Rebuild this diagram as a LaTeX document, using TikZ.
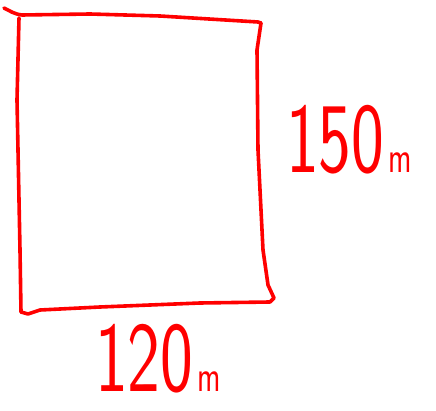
\documentclass[tikz,border=0pt]{standalone}
\usetikzlibrary{positioning}
\tikzset{
  sketch/.style={draw=red, line width=3.6pt, line cap=round, line join=round},
  hand/.style={text=red, inner sep=0pt, xscale=0.85, yscale=1.22,
    font=\fontsize{82}{82}\selectfont\sffamily},
}
\newcommand{\unitm}{\kern4.6pt{\fontsize{37}{37}\selectfont m}}
\begin{document}
\begin{tikzpicture}[x=1pt,y=-1pt]
    \useasboundingbox (0,0) rectangle (436,411);
    % corners of the field
    \coordinate (TL) at (19,18);
    \coordinate (TR) at (261,23);
    \coordinate (BR) at (274,298);
    \coordinate (BL) at (21,312);

        \draw[sketch] (4,8) .. controls (10,11) and (14,14) .. (22,15)
            -- (90,14) -- (160,16) -- (258,22) -- (TR);
        \draw[sketch] (TR) -- (257,50) -- (258,150) -- (263,250) -- (268,285) -- (BR)
            -- (270,302) -- (200,303) -- (100,307) -- (40,310) -- (28,314) -- (BL);
        \draw[sketch] (BL) -- (20,250) -- (17,100) -- (TL);

    \node[hand] (side150) at (349,140) {150\unitm};
    \node[hand] (side120) at (158,359) {120\unitm};
\end{tikzpicture}
\end{document}
